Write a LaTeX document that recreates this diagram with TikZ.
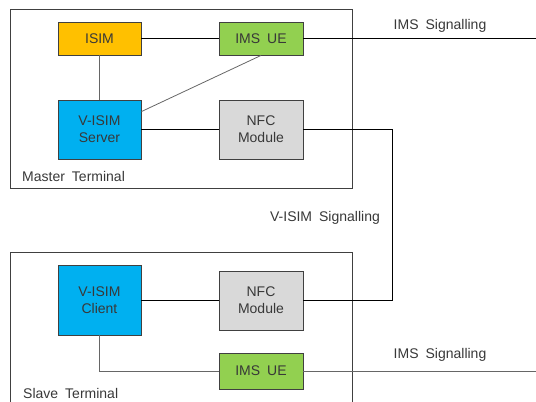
\documentclass[tikz,border=0pt]{standalone}
\usepackage{fontspec}
\setmainfont{Liberation Sans}
\usetikzlibrary{calc}
\definecolor{txt}{HTML}{383838}
\definecolor{frm}{HTML}{404040}
\definecolor{isimc}{HTML}{FFC000}
\definecolor{imsc}{HTML}{92D050}
\definecolor{visimc}{HTML}{00B0F0}
\definecolor{nfcc}{HTML}{D9D9D9}
\newcommand{\diafont}{\fontsize{14}{17}\selectfont\spaceskip=7pt plus 1pt minus 1pt\relax}
\tikzset{
  blk/.style={draw=frm, line width=0.9pt, align=center, text=txt, font=\diafont, inner sep=0pt},
  lab/.style={text=txt, font=\diafont, inner sep=0pt},
  frame/.style={draw=frm, line width=0.9pt},
  wire/.style={draw=black, line width=0.8pt},
  gwire/.style={draw=black!60, line width=0.8pt}
}
\begin{document}
\begin{tikzpicture}[x=1pt,y=-1pt]
\useasboundingbox (0,0) rectangle (536,402);
% frames
\draw[frame] (10,9) rectangle (352,188);
\begin{scope}
\clip (0,0) rectangle (536,402);
\draw[frame] (10,252) rectangle (352,420);
\end{scope}
% nodes
\node[blk, fill=isimc, minimum width=83pt, minimum height=33pt] (isim) at (99.5,38.5) {ISIM};
\node[blk, fill=imsc, minimum width=84pt, minimum height=33pt] (imsA) at (261,38.5) {IMS UE};
\node[blk, fill=visimc, minimum width=83pt, minimum height=59pt] (srv) at (99.5,129.5) {V-ISIM\\Server};
\node[blk, fill=nfcc, minimum width=84pt, minimum height=59pt] (nfcA) at (261,129.5) {NFC\\Module};
\node[blk, fill=visimc, minimum width=83pt, minimum height=70pt] (cli) at (99.5,300) {V-ISIM\\Client};
\node[blk, fill=nfcc, minimum width=84pt, minimum height=59pt] (nfcB) at (261,300.5) {NFC\\Module};
\node[blk, fill=imsc, minimum width=84pt, minimum height=36pt] (imsB) at (261,371) {IMS UE};
% labels
\node[lab, anchor=west] (mt) at (22,176) {Master Terminal};
\node[lab, anchor=west] (st) at (23,393) {Slave Terminal};
\node[lab] (sigA) at (440,26) {IMS Signalling};
\node[lab] (sigB) at (440,355) {IMS Signalling};
\node[lab] (sigV) at (325,218) {V-ISIM Signalling};
% free ends
\coordinate (endA) at (536,38.5);
\coordinate (endB) at (536,371);
\coordinate (vbus) at (392,129.5);
% connectors
\draw[wire] (isim) -- (imsA);
\draw[gwire] (isim) -- (srv);
\draw[gwire] (imsA.south) -- ($(srv.north east)+(0,12)$);
\draw[wire] (srv) -- (nfcA);
\draw[wire] (imsA.east) -- (endA);
\draw[wire] (nfcA.east) -- (vbus) |- (nfcB.east);
\draw[wire] (cli.east |- nfcB) -- (nfcB.west);
\draw[gwire] (cli.south) |- (imsB.west);
\draw[gwire] (imsB.east) -- (endB);
\end{tikzpicture}
\end{document}
